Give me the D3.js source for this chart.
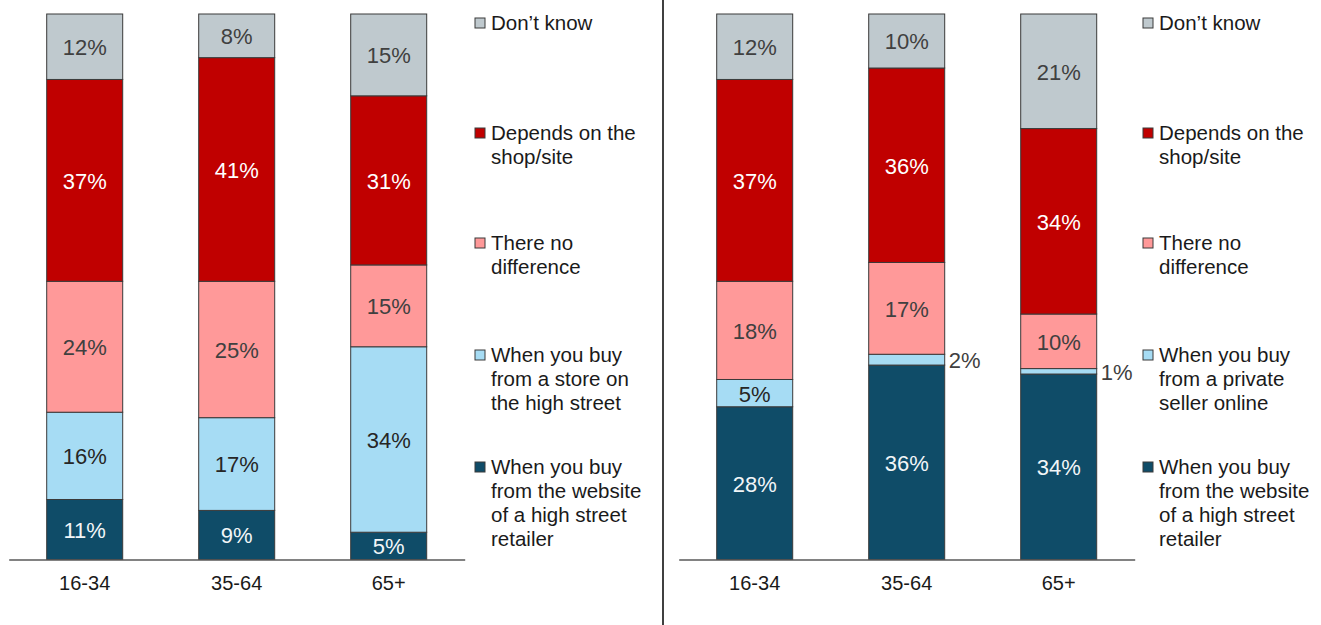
<!DOCTYPE html>
<html>
<head>
<meta charset="utf-8">
<script src="https://cdn.jsdelivr.net/npm/d3@7"></script>
<style>
  html, body { margin: 0; padding: 0; background: #fff; }
  svg { display: block; font-family: "Liberation Sans", Arial, sans-serif; }
</style>
</head>
<body>
<svg id="chart" width="1321" height="625"></svg>
<script>
// Age groups shown on both panels
const categories = ["16-34", "35-64", "65+"];

// Left panel: shares per age group, stacked bottom to top
const leftWebsite  = [11, 9, 5];
const leftStore    = [16, 17, 34];
const leftNoDiff   = [24, 25, 15];
const leftDepends  = [37, 41, 31];
const leftDontKnow = [12, 8, 15];

// Right panel
const rightWebsite  = [28, 36, 34];
const rightPrivate  = [5, 2, 1];
const rightNoDiff   = [18, 17, 10];
const rightDepends  = [37, 36, 34];
const rightDontKnow = [12, 10, 21];

// Legend entries (top to bottom), pre-wrapped lines
const leftLegend = [
  ["Don\u2019t know"],
  ["Depends on the", "shop/site"],
  ["There no", "difference"],
  ["When you buy", "from a store on", "the high street"],
  ["When you buy", "from the website", "of a high street", "retailer"]
];
const rightLegend = [
  ["Don\u2019t know"],
  ["Depends on the", "shop/site"],
  ["There no", "difference"],
  ["When you buy", "from a private", "seller online"],
  ["When you buy", "from the website", "of a high street", "retailer"]
];

// Series styling, bottom to top
const fills      = ["#0f4c68", "#a6dcf4", "#ff9999", "#c00000", "#bfc9ce"];
const labelFills = ["#f2f6f8", "#262626", "#404040", "#ffffff", "#404040"];

const panels = [
  { series: [leftWebsite, leftStore, leftNoDiff, leftDepends, leftDontKnow],
    legend: leftLegend, x0: 8.7, x1: 464.7, legendX: 475 },
  { series: [rightWebsite, rightPrivate, rightNoDiff, rightDepends, rightDontKnow],
    legend: rightLegend, x0: 678.7, x1: 1134.7, legendX: 1143 }
];

const svg = d3.select("#chart");
const plotTop = 14, plotBottom = 559.5;
const legendY = [23, 133, 243, 355, 467];

// Divider between the two panels
svg.append("line")
  .attr("x1", 663).attr("x2", 663).attr("y1", 0).attr("y2", 625)
  .attr("stroke", "#404040").attr("stroke-width", 2);

panels.forEach(p => {
  const g = svg.append("g");
  const x = d3.scaleBand().domain(categories).range([p.x0, p.x1])
    .paddingInner(0.5).paddingOuter(0.25);

  categories.forEach((cat, ci) => {
    const vals = p.series.map(s => s[ci]);
    const total = d3.sum(vals);
    const y = d3.scaleLinear().domain([0, total]).range([plotBottom, plotTop]);
    let cum = 0;
    vals.forEach((v, si) => {
      const y0 = y(cum), y1 = y(cum + v);
      cum += v;
      g.append("rect")
        .attr("x", x(cat)).attr("width", x.bandwidth())
        .attr("y", y1).attr("height", y0 - y1)
        .attr("fill", fills[si])
        .attr("stroke", "#3a3a3a").attr("stroke-width", 1);
      const h = y0 - y1;
      const inside = h >= 20;
      g.append("text")
        .attr("x", inside ? x(cat) + x.bandwidth() / 2 : x(cat) + x.bandwidth() + 4)
        .attr("y", (y0 + y1) / 2 + 0.5)
        .attr("dy", "0.36em")
        .attr("text-anchor", inside ? "middle" : "start")
        .attr("font-size", 22)
        .attr("fill", inside ? labelFills[si] : "#404040")
        .text(v + "%");
    });
  });

  // Baseline with category labels
  const axis = d3.axisBottom(x).tickSize(0).tickPadding(16);
  const ax = g.append("g").attr("transform", `translate(0,${plotBottom})`).call(axis);
  ax.select(".domain").attr("stroke", "#595959").attr("stroke-width", 1.5);
  ax.selectAll("text").attr("font-size", 20).attr("fill", "#1a1a1a")
    .attr("font-family", "Liberation Sans, Arial, sans-serif");

  // Legend, top entry first
  p.legend.forEach((lines, i) => {
    const si = fills.length - 1 - i;
    const cy = legendY[i];
    g.append("rect")
      .attr("x", p.legendX).attr("y", cy - 5)
      .attr("width", 10).attr("height", 10)
      .attr("fill", fills[si]).attr("stroke", "#3a3a3a").attr("stroke-width", 1);
    const t = g.append("text")
      .attr("x", p.legendX + 16).attr("y", cy)
      .attr("font-size", 20.5).attr("fill", "#1a1a1a");
    lines.forEach((ln, li) => {
      t.append("tspan").attr("x", p.legendX + 16)
        .attr("dy", li === 0 ? "0.36em" : 24).text(ln);
    });
  });
});
</script>
</body>
</html>
